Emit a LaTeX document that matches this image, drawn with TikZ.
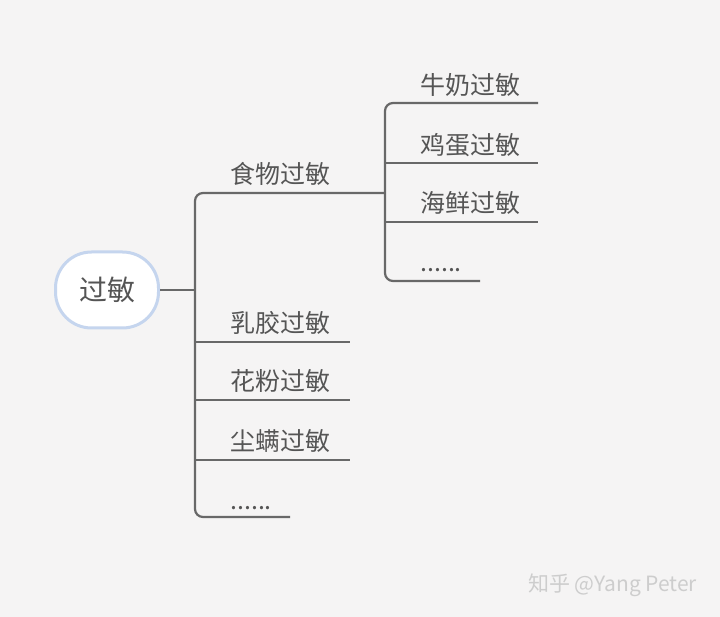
\documentclass[tikz,border=0pt]{standalone}
\usepackage{fontspec}
\newfontfamily\cjk{Noto Sans CJK SC}
\definecolor{bgc}{HTML}{F5F4F4}
\definecolor{linec}{HTML}{686868}
\definecolor{textc}{HTML}{555555}
\definecolor{rootb}{HTML}{C5D5EE}
\definecolor{wmc}{HTML}{CDCDCD}
\begin{document}
\begin{tikzpicture}[x=1pt,y=-1pt,
  conn/.style={draw=linec, line width=2.2pt},
  lbl/.style={anchor=west, inner sep=0pt, text=textc, font=\cjk\fontsize{25}{30}\selectfont},
  rootbox/.style={draw=rootb, line width=3pt, fill=white, rounded corners=36pt,
    minimum width=103pt, minimum height=76pt, inner sep=0pt, text=textc,
    font=\cjk\fontsize{28}{32}\selectfont},
  wm/.style={anchor=west, inner sep=0pt, text=wmc, font=\cjk\fontsize{21}{25}\selectfont}]
\fill[bgc] (0,0) rectangle (720,617);
\useasboundingbox (0,0) rectangle (720,617);

\node[rootbox] (root) at (107,290) {过敏};

% main trunk
\coordinate (ttop) at (195,193);
\coordinate (tbot) at (195,517);
\coordinate (fEnd) at (385,193);
\coordinate (dEnd) at (290,517);
\coordinate (l1s) at (195,342); \coordinate (l1e) at (350,342);
\coordinate (l2s) at (195,400); \coordinate (l2e) at (350,400);
\coordinate (l3s) at (195,460); \coordinate (l3e) at (350,460);

% child trunk
\coordinate (c1s) at (385,103); \coordinate (c1e) at (538,103);
\coordinate (c2s) at (385,163); \coordinate (c2e) at (538,163);
\coordinate (c3s) at (385,222); \coordinate (c3e) at (538,222);
\coordinate (c4s) at (385,281); \coordinate (c4e) at (480,281);

\draw[conn] (root.east) -- (root.east -| ttop);
\draw[conn, rounded corners=8pt] (fEnd) -- (ttop) -- (tbot) -- (dEnd);
\draw[conn] (l1s) -- (l1e);
\draw[conn] (l2s) -- (l2e);
\draw[conn] (l3s) -- (l3e);
\draw[conn, rounded corners=8pt] (c1e) -- (c1s) -- (c4s) -- (c4e);
\draw[conn] (c2s) -- (c2e);
\draw[conn] (c3s) -- (c3e);

% labels
\node[lbl] (food) at (230,174) {食物过敏};
\node[lbl] (latex) at (230,323) {乳胶过敏};
\node[lbl] (pollen) at (230,381) {花粉过敏};
\node[lbl] (mite) at (230,441) {尘螨过敏};
\node[lbl] (more1) at (230,508) {......};
\node[lbl] (milk) at (420,85) {牛奶过敏};
\node[lbl] (egg) at (420,145) {鸡蛋过敏};
\node[lbl] (sea) at (420,203) {海鲜过敏};
\node[lbl] (more2) at (420,270) {......};

\node[wm] (mark) at (528,585) {知乎 @Yang Peter};
\end{tikzpicture}
\end{document}
